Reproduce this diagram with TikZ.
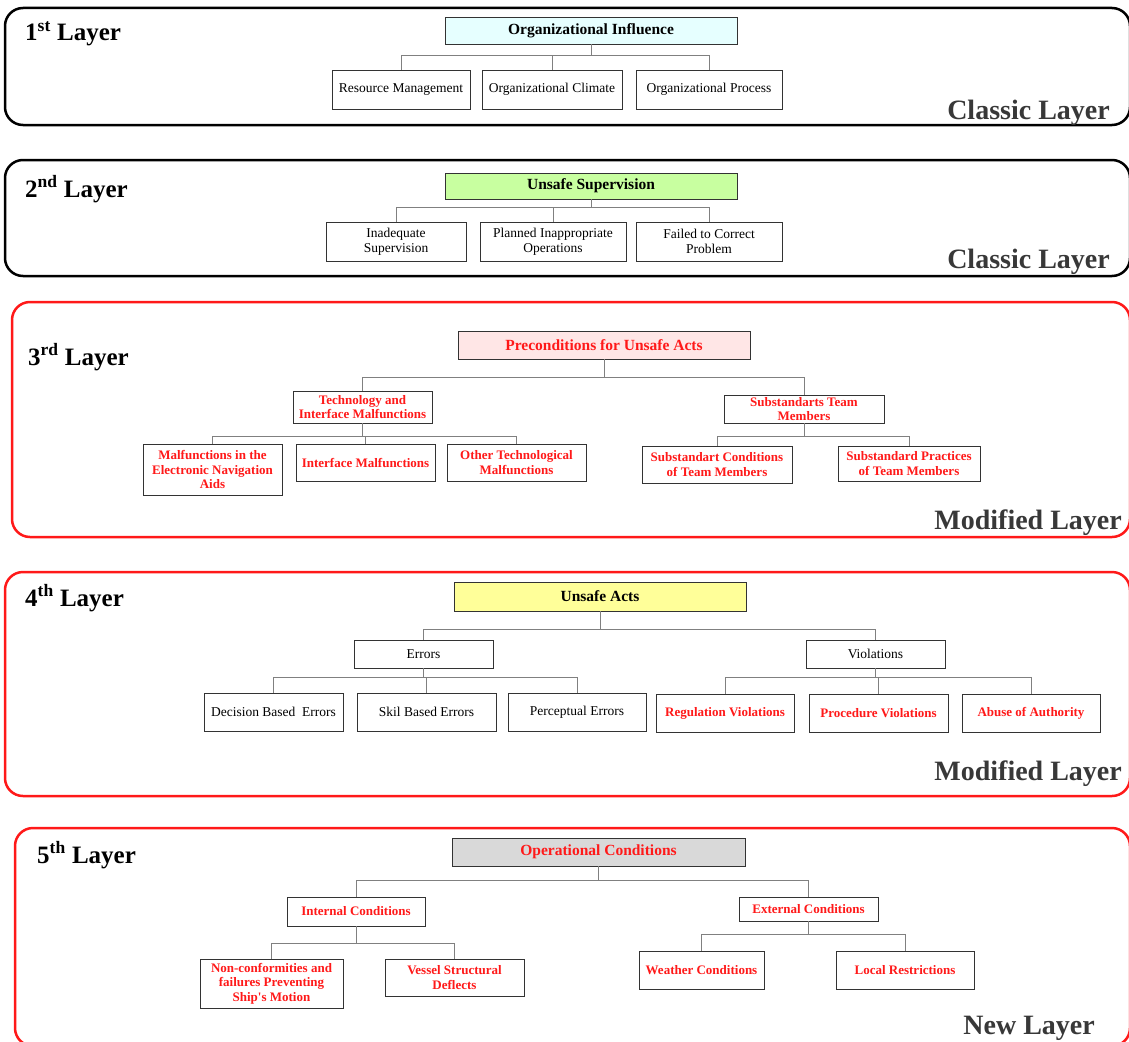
\documentclass[tikz,border=0pt]{standalone}
\usepackage{fontspec}
\setmainfont{Liberation Serif}
\usepackage{tikz}
\usepackage{xcolor}

\definecolor{hdcyan}{RGB}{230,255,255}
\definecolor{hdgreen}{RGB}{200,255,160}
\definecolor{hdpink}{RGB}{255,230,230}
\definecolor{hdyellow}{RGB}{255,255,153}
\definecolor{hdgray}{RGB}{217,217,217}
\definecolor{hfred}{RGB}{255,25,25}
\definecolor{kindgray}{RGB}{56,56,56}

\begin{document}
\begin{tikzpicture}[x=1pt,y=1pt,
  box/.style={draw=black!80,line width=0.9pt,fill=white,inner sep=1pt,align=center,font=\fontsize{13.5}{15}\selectfont},
  headbox/.style={box,font=\fontsize{15.5}{17}\selectfont\bfseries},
  redbox/.style={box,text=hfred,font=\fontsize{13}{14.5}\selectfont\bfseries},
  link/.style={draw=gray,line width=0.8pt},
  frame/.style={rounded corners=18pt,line width=2.5pt},
  laylbl/.style={anchor=base west,inner sep=0pt,font=\fontsize{25}{27}\selectfont\bfseries},
  kindlbl/.style={anchor=base east,inner sep=0pt,text=kindgray,font=\fontsize{28}{30}\selectfont\bfseries}]
\useasboundingbox (0,0) rectangle (1129,-1041);

\draw[frame,black] (5,-8) rectangle (1130,-125);
\node[laylbl] (lay1) at (25,-41) {1\textsuperscript{st} Layer};
\node[kindlbl] (cls1) at (1110,-119) {Classic Layer};
\node[headbox,fill=hdcyan,minimum width=292,minimum height=27] (oi) at (591,-30.5) {Organizational Influence};
\node[box,minimum width=138,minimum height=39] (rm) at (401,-89.5) {Resource Management};
\node[box,minimum width=140,minimum height=39] (oc) at (552,-89.5) {Organizational Climate};
\node[box,minimum width=146,minimum height=39] (op) at (709,-89.5) {Organizational Process};
\draw[link] (oi.south) -- ++(0,-11) -| (rm.north);
\draw[link] (oi.south) -- ++(0,-11) -| (oc.north);
\draw[link] (oi.south) -- ++(0,-11) -| (op.north);

\draw[frame,black] (5,-160) rectangle (1130,-276);
\node[laylbl] (lay2) at (25,-197) {2\textsuperscript{nd} Layer};
\node[kindlbl] (cls2) at (1110,-268) {Classic Layer};
\node[headbox,fill=hdgreen,minimum width=292,minimum height=26] (us) at (591,-186) {Unsafe Supervision};
\node[box,minimum width=140,minimum height=39] (ins) at (396,-241.5) {Inadequate\\Supervision};
\node[box,minimum width=146,minimum height=39] (pio) at (553,-241.5) {Planned Inappropriate\\Operations};
\node[box,minimum width=146,minimum height=39] (fcp) at (709,-241.5) {Failed to Correct\\Problem};
\draw[link] (us.south) -- ++(0,-8) -| (ins.north);
\draw[link] (us.south) -- ++(0,-8) -| (pio.north);
\draw[link] (us.south) -- ++(0,-8) -| (fcp.north);

\draw[frame,hfred] (12,-302) rectangle (1130,-537);
\node[laylbl] (lay3) at (28,-365) {3\textsuperscript{rd} Layer};
\node[kindlbl] (cls3) at (1122,-529) {Modified Layer};
\node[headbox,fill=hdpink,text=hfred,minimum width=292,minimum height=28] (pua) at (604,-345) {Preconditions for Unsafe Acts};
\node[redbox,minimum width=139,minimum height=32] (tim) at (362.5,-407) {Technology and\\Interface Malfunctions};
\node[redbox,minimum width=160,minimum height=28] (stm) at (804,-409) {Substandarts Team\\Members};
\draw[link] (pua.south) -- ++(0,-18) -| (tim.north);
\draw[link] (pua.south) -- ++(0,-18) -| (stm.north);
\node[redbox,minimum width=139,minimum height=51] (mena) at (212.5,-469.5) {Malfunctions in the\\Electronic Navigation\\Aids};
\node[redbox,minimum width=139,minimum height=37] (imf) at (365.5,-462.5) {Interface Malfunctions};
\node[redbox,minimum width=139,minimum height=37] (otm) at (516.5,-462.5) {Other Technological\\Malfunctions};
\draw[link] (tim.south) -- ++(0,-13) -| (mena.north);
\draw[link] (tim.south) -- ++(0,-13) -| (imf.north);
\draw[link] (tim.south) -- ++(0,-13) -| (otm.north);
\node[redbox,minimum width=150,minimum height=37] (sctm) at (717,-464.5) {Substandart Conditions\\of Team Members};
\node[redbox,minimum width=142,minimum height=35] (sptm) at (909,-463.5) {Substandard Practices\\of Team Members};
\draw[link] (stm.south) -- ++(0,-13) -| (sctm.north);
\draw[link] (stm.south) -- ++(0,-13) -| (sptm.north);

\draw[frame,hfred] (5,-572) rectangle (1130,-796);
\node[laylbl] (lay4) at (25,-606) {4\textsuperscript{th} Layer};
\node[kindlbl] (cls4) at (1122,-780) {Modified Layer};
\node[headbox,fill=hdyellow,minimum width=292,minimum height=29] (ua) at (600,-596.5) {Unsafe Acts};
\node[box,minimum width=139,minimum height=28] (err) at (423.5,-654) {Errors};
\node[box,minimum width=139,minimum height=28] (vio) at (875.5,-654) {Violations};
\draw[link] (ua.south) -- ++(0,-18) -| (err.north);
\draw[link] (ua.south) -- ++(0,-18) -| (vio.north);
\node[box,minimum width=139,minimum height=38] (dbe) at (273.5,-712) {Decision Based~ Errors};
\node[box,minimum width=139,minimum height=38] (sbe) at (426.5,-712) {Skil Based Errors};
\node[box,minimum width=138,minimum height=38] (pe) at (577,-712) {Perceptual Errors};
\draw[link] (err.south) -- ++(0,-9) -| (dbe.north);
\draw[link] (err.south) -- ++(0,-9) -| (sbe.north);
\draw[link] (err.south) -- ++(0,-9) -| (pe.north);
\node[redbox,minimum width=138,minimum height=38] (rv) at (725,-713) {Regulation Violations};
\node[redbox,minimum width=139,minimum height=38] (pv) at (878.5,-713) {Procedure Violations};
\node[redbox,minimum width=138,minimum height=38] (aa) at (1031,-713) {Abuse of Authority};
\draw[link] (vio.south) -- ++(0,-9) -| (rv.north);
\draw[link] (vio.south) -- ++(0,-9) -| (pv.north);
\draw[link] (vio.south) -- ++(0,-9) -| (aa.north);

\draw[frame,hfred] (15,-828) rectangle (1130,-1046);
\node[laylbl] (lay5) at (37,-863) {5\textsuperscript{th} Layer};
\node[kindlbl] (cls5) at (1095,-1034) {New Layer};
\node[headbox,fill=hdgray,text=hfred,minimum width=293,minimum height=28] (opc) at (598.5,-852) {Operational Conditions};
\node[redbox,minimum width=138,minimum height=29] (ic) at (356,-911.5) {Internal Conditions};
\node[redbox,minimum width=139,minimum height=24] (ec) at (808.5,-909) {External Conditions};
\draw[link] (opc.south) -- ++(0,-14) -| (ic.north);
\draw[link] (opc.south) -- ++(0,-14) -| (ec.north);
\node[redbox,minimum width=143,minimum height=49] (ncf) at (271.5,-983.5) {Non-conformities and\\failures Preventing\\Ship\textquotesingle s Motion};
\node[redbox,minimum width=139,minimum height=37] (vsd) at (454.5,-977.5) {Vessel Structural\\Deflects};
\draw[link] (ic.south) -- ++(0,-17) -| (ncf.north);
\draw[link] (ic.south) -- ++(0,-17) -| (vsd.north);
\node[redbox,minimum width=125,minimum height=38] (wc) at (701.5,-970) {Weather Conditions};
\node[redbox,minimum width=138,minimum height=38] (lr) at (905,-970) {Local Restrictions};
\draw[link] (ec.south) -- ++(0,-13) -| (wc.north);
\draw[link] (ec.south) -- ++(0,-13) -| (lr.north);
\end{tikzpicture}
\end{document}
